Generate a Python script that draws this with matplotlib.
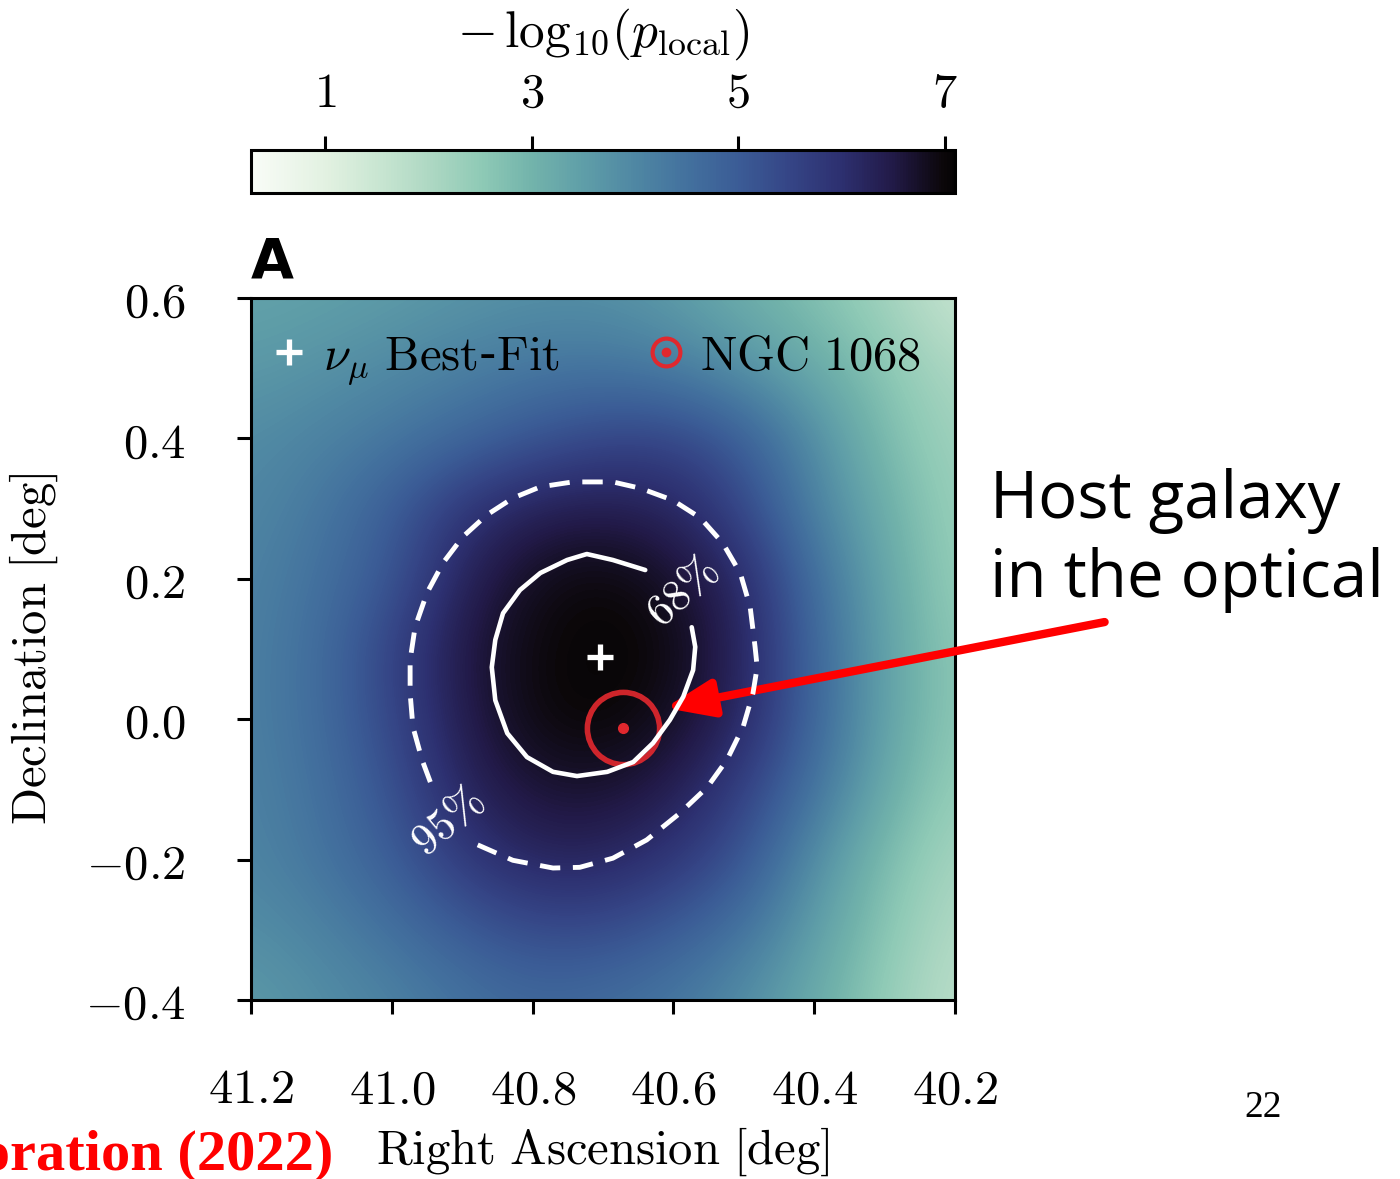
import numpy as np
import matplotlib
matplotlib.use("Agg")
import matplotlib.pyplot as plt
from matplotlib.colors import LinearSegmentedColormap
from matplotlib.lines import Line2D
from matplotlib.legend_handler import HandlerTuple

plt.rcParams['mathtext.fontset'] = 'cm'

# grid of -log10(p_local)
ra_grid = [41.2, 41.1, 41.0, 40.9, 40.8, 40.7, 40.6, 40.5, 40.4, 40.3, 40.2]
dec_grid = [0.6, 0.5, 0.4, 0.3, 0.2, 0.1, 0.0, -0.1, -0.2, -0.3, -0.4]
tsmap = [
    [3.40, 3.45, 3.55, 3.70, 3.80, 3.80, 3.55, 3.10, 2.70, 2.20, 1.50],
    [3.60, 3.75, 3.95, 4.15, 4.35, 4.40, 4.20, 3.75, 3.20, 2.60, 2.00],
    [3.90, 4.10, 4.35, 4.70, 5.10, 5.45, 5.50, 4.95, 3.85, 2.80, 2.20],
    [4.00, 4.35, 4.95, 5.85, 6.35, 6.45, 6.25, 5.45, 4.10, 3.10, 2.30],
    [4.10, 4.50, 5.10, 6.30, 6.85, 7.00, 6.75, 6.15, 4.55, 3.30, 2.35],
    [4.15, 4.60, 5.55, 6.55, 6.95, 7.10, 6.95, 6.25, 4.75, 3.40, 2.50],
    [4.15, 4.60, 5.45, 6.45, 6.95, 7.05, 6.80, 6.20, 4.75, 3.40, 2.50],
    [4.10, 4.50, 5.20, 6.25, 6.65, 6.70, 6.45, 5.60, 4.45, 3.20, 2.35],
    [4.05, 4.40, 4.95, 5.75, 6.25, 6.25, 5.85, 5.15, 3.85, 2.80, 2.10],
    [3.85, 4.10, 4.50, 5.00, 5.35, 5.35, 5.00, 4.45, 3.50, 2.60, 1.90],
    [3.60, 3.85, 4.10, 4.45, 4.70, 4.60, 4.35, 3.85, 3.20, 2.40, 1.75],
]

# 68% contour (solid) and 95% contour (dashed), RA / Dec in deg
c68_ra = [40.640, 40.686, 40.723, 40.751, 40.789, 40.818, 40.842, 40.853, 40.858,
          40.853, 40.836, 40.808, 40.771, 40.737, 40.694, 40.657, 40.629, 40.605,
          40.586, 40.572, 40.569, 40.574]
c68_dec = [0.2125, 0.2268, 0.2353, 0.2268, 0.2083, 0.184, 0.151, 0.113, 0.074,
           0.027, -0.020, -0.054, -0.075, -0.081, -0.075, -0.061, -0.034, -0.001,
           0.032, 0.070, 0.103, 0.131]
c95_ra = [40.878, 40.828, 40.771, 40.733, 40.686, 40.638, 40.591, 40.552, 40.524,
          40.501, 40.487, 40.481, 40.484, 40.491, 40.505, 40.530, 40.562, 40.601,
          40.647, 40.686, 40.743, 40.789, 40.828, 40.865, 40.899, 40.927, 40.950,
          40.967, 40.974, 40.974, 40.970, 40.957, 40.941]
c95_dec = [-0.179, -0.201, -0.212, -0.211, -0.198, -0.172, -0.134, -0.097, -0.058,
           -0.011, 0.037, 0.074, 0.103, 0.160, 0.208, 0.251, 0.287, 0.312, 0.329,
           0.338, 0.338, 0.331, 0.315, 0.291, 0.260, 0.223, 0.180, 0.131, 0.084,
           0.037, -0.011, -0.058, -0.101]

bestfit = (40.704, 0.089)
ngc1068 = (40.672, -0.0125)
arrow_tip = (40.612, 0.016)

xticks = [41.2, 41.0, 40.8, 40.6, 40.4, 40.2]
yticks = [0.6, 0.4, 0.2, 0.0, -0.2, -0.4]
cticks = [1, 3, 5, 7]
vmin, vmax = 0.28, 7.1

# colour scale taken from the colour bar
cb_vals = [0.28, 1.0, 1.5, 2.0, 2.5, 3.0, 3.5, 4.0, 4.5, 5.0, 5.5, 6.0, 6.5, 7.0, 7.1]
cb_cols = ['#f9fcf7', '#e2f1e1', '#c9e6d2', '#aed8c3', '#8fcab6', '#72b3ab', '#5f9ea8',
           '#4f87a3', '#43719e', '#3b5c96', '#354586', '#2d3070', '#221a48', '#0b0709',
           '#050304']
cmap = LinearSegmentedColormap.from_list(
    'pmap', [((v - vmin) / (vmax - vmin), c) for v, c in zip(cb_vals, cb_cols)])

fig = plt.figure(figsize=(14, 11.79), dpi=100)
ax = fig.add_axes([0.17929, 0.15182, 0.50286, 0.59542])
cax = fig.add_axes([0.17929, 0.83630, 0.50286, 0.03647])

step = 0.1
im = ax.imshow(np.array(tsmap), cmap=cmap, vmin=vmin, vmax=vmax, aspect='auto',
               interpolation='bicubic', origin='upper',
               extent=[ra_grid[0] + step / 2, ra_grid[-1] - step / 2,
                       dec_grid[-1] - step / 2, dec_grid[0] + step / 2])
ax.set_xlim(41.2, 40.2)
ax.set_ylim(-0.4, 0.6)

red = '#e0282e'
ax.plot(ngc1068[0], ngc1068[1], 'o', mfc='none', mec=red, ms=52, mew=4, alpha=0.92, zorder=3)
ax.plot(ngc1068[0], ngc1068[1], 'o', color=red, ms=7, zorder=3)
ax.plot(c68_ra, c68_dec, color='white', lw=3.3, solid_capstyle='round',
        solid_joinstyle='round', zorder=4)
ax.plot(c95_ra, c95_dec, color='white', lw=3.5, dashes=(4.2, 2.6), zorder=4)
ax.plot(bestfit[0], bestfit[1], '+', color='white', ms=19, mew=3.8, zorder=5)

ax.text(40.586, 0.180, r'$68\%$', color='white', fontsize=32, rotation=42,
        ha='center', va='center', zorder=5)
ax.text(40.920, -0.146, r'$95\%$', color='white', fontsize=32, rotation=40,
        ha='center', va='center', zorder=5)

# legend
h_bf = Line2D([], [], ls='none', marker='+', color='white', ms=19, mew=3.8)
h_ring = Line2D([], [], ls='none', marker='o', mfc='none', mec=red, ms=20, mew=3)
h_dot = Line2D([], [], ls='none', marker='o', color=red, ms=6)
ax.legend([h_bf, (h_ring, h_dot)],
          [r'$\nu_\mu\ \mathrm{Best}$-$\mathrm{Fit}$', r'$\mathrm{NGC\ 1068}$'],
          handler_map={tuple: HandlerTuple(ndivide=1, pad=0)},
          ncol=2, frameon=False, loc='center left', bbox_to_anchor=(0.0334, 0.913),
          borderpad=0, borderaxespad=0, handlelength=0.6, handletextpad=0.4,
          columnspacing=1.88, prop={'size': 35})

ax.set_xticks(xticks)
ax.set_xticklabels([f'${v:.1f}$' for v in xticks])
ax.set_yticks(yticks)
ax.set_yticklabels([f'${v:.1f}$' for v in yticks])
ax.tick_params(direction='out', length=10, width=2.2, pad=37, labelsize=35,
               top=False, right=False)
for s in ax.spines.values():
    s.set_linewidth(2.2)
ax.set_xlabel(r'$\mathrm{Right\ Ascension\ [deg]}$', fontsize=35, labelpad=9)
ax.set_ylabel(r'$\mathrm{Declination\ [deg]}$', fontsize=35, labelpad=18)

ax.text(0.0, 1.012, 'A', transform=ax.transAxes, fontsize=40, fontweight='bold',
        family=['Liberation Sans Narrow', 'DejaVu Sans'], ha='left', va='bottom')

cb = fig.colorbar(im, cax=cax, orientation='horizontal', ticks=cticks)
cax.xaxis.set_ticks_position('top')
cax.xaxis.set_label_position('top')
cax.set_xticklabels([f'${v}$' for v in cticks])
cax.tick_params(direction='out', length=10, width=2.2, pad=14, labelsize=35)
cb.outline.set_linewidth(2.2)
cb.set_label(r'$-\,\mathrm{log}_{10}(p_\mathrm{local})$', fontsize=37, labelpad=16)

# annotation
ax.annotate('', xy=arrow_tip, xycoords='data', xytext=(0.789, 0.4724),
            textcoords='figure fraction', annotation_clip=False,
            arrowprops=dict(arrowstyle='-|>,head_length=1.8,head_width=0.7',
                            mutation_scale=16, color='red', lw=6,
                            shrinkA=0, shrinkB=0))
fig.text(990 / 1400, 1 - 518 / 1179, 'Host galaxy', family='Open Sans',
         fontsize=47, ha='left', va='baseline')
fig.text(990 / 1400, 1 - 597 / 1179, 'in the optical', family='Open Sans',
         fontsize=47, ha='left', va='baseline')

fig.text(333 / 1400, 1 - 1170 / 1179, 'IceCube Collaboration (2022)', color='red',
         family='Liberation Serif', fontweight='bold', fontsize=42,
         ha='right', va='baseline')
fig.text(1263 / 1400, 1 - 1108 / 1179, '22', family='Liberation Serif', fontsize=27,
         ha='center', va='center')

fig.savefig('out.png', dpi=100)
